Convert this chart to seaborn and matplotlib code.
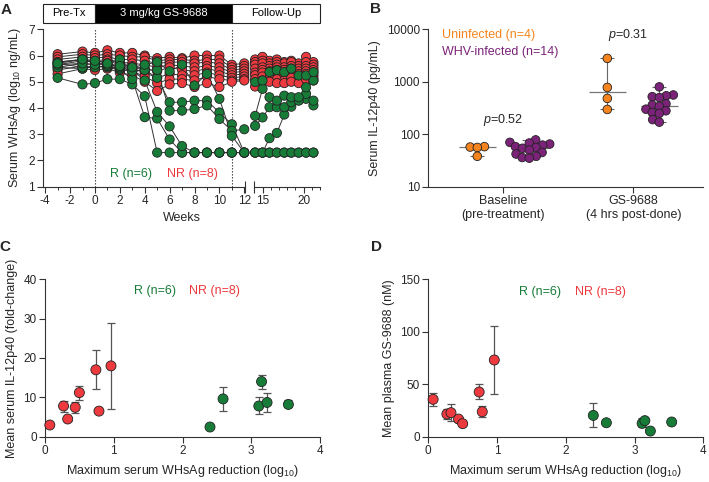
import numpy as np
import pandas as pd
import matplotlib
matplotlib.use("Agg")
import matplotlib.pyplot as plt
import matplotlib.transforms as mtransforms
from matplotlib.patches import Rectangle
from matplotlib.ticker import MultipleLocator, NullLocator
import seaborn as sns

sns.set_style("ticks")
plt.rcParams["font.family"] = ["Liberation Sans", "DejaVu Sans"]
plt.rcParams["font.size"] = 8.5
plt.rcParams["axes.unicode_minus"] = False
plt.rcParams["mathtext.fontset"] = "custom"
plt.rcParams["mathtext.rm"] = "Liberation Sans"
plt.rcParams["mathtext.it"] = "Liberation Sans:italic"

RED = "#EC3A3F"
GREEN = "#187C39"
ORANGE = "#F5841F"
PURPLE = "#7B2379"
INK = "#333333"

# ---------------- data ----------------
# panel A: weeks on each side of the axis break
weeks_pre = [-3, -1, 0, 1, 2, 3, 4, 5, 6, 7, 8, 9, 10, 11, 12]
weeks_post = [14.1, 15.0, 15.85, 16.75, 17.65, 18.5, 19.4, 20.3, 21.2]

nr_pre = [
    [6.05, 6.15, 6.10, 6.20, 6.10, 6.10, 6.00, 5.90, 5.95, 5.90, 6.00, 6.00, 6.00, 5.65, 5.70],
    [5.95, 6.05, 6.00, 6.05, 6.00, 5.95, 5.95, 5.80, 5.85, 5.85, 5.80, 5.85, 5.85, 5.55, 5.60],
    [5.85, 5.95, 5.90, 5.95, 5.85, 5.85, 5.80, 5.70, 5.75, 5.75, 5.70, 5.75, 5.70, 5.45, 5.50],
    [5.75, 5.85, 5.80, 5.85, 5.75, 5.70, 5.65, 5.55, 5.65, 5.60, 5.55, 5.60, 5.55, 5.35, 5.40],
    [5.65, 5.80, 5.75, 5.80, 5.65, 5.60, 5.50, 5.40, 5.55, 5.45, 5.40, 5.50, 5.40, 5.25, 5.30],
    [5.55, 5.70, 5.65, 5.70, 5.55, 5.50, 5.35, 5.15, 5.30, 5.25, 5.25, 5.35, 5.25, 5.15, 5.20],
    [5.45, 5.60, 5.55, 5.60, 5.45, 5.40, 5.20, 4.95, 5.10, 5.10, 5.05, 5.20, 5.10, 5.05, 5.10],
    [5.30, 5.50, 5.45, 5.50, 5.35, 5.25, 5.00, 4.65, 4.90, 4.95, 4.80, 4.95, 4.80, 5.00, 5.05],
]
nr_post = [
    [5.85, 5.95, 5.80, 5.85, 5.75, 5.80, 5.70, 5.95, 5.75],
    [5.75, 5.80, 5.70, 5.75, 5.70, 5.75, 5.60, 5.75, 5.65],
    [5.65, 5.70, 5.60, 5.65, 5.55, 5.60, 5.50, 5.60, 5.55],
    [5.50, 5.55, 5.50, 5.55, 5.45, 5.50, 5.40, 5.50, 5.45],
    [5.35, 5.45, 5.40, 5.45, 5.35, 5.40, 5.30, 5.40, 5.35],
    [5.25, 5.35, 5.30, 5.30, 5.20, 5.30, 5.20, 5.30, 5.25],
    [5.10, 5.20, 5.15, 5.10, 5.05, 5.15, 5.10, 5.20, 5.15],
    [4.82, 5.05, 5.00, 4.95, 4.95, 5.00, 4.95, 5.10, 5.05],
]
r_pre = [
    [5.15, 4.90, 4.95, 5.10, 5.10, 4.90, 4.45, 2.30, 2.30, 2.30, 2.30, 2.30, 2.30, 2.30, 2.30],
    [5.55, 5.50, 5.60, 5.55, 5.45, 5.10, 3.65, 3.60, 2.80, 2.30, 2.30, 2.30, 2.30, 2.30, 2.30],
    [5.75, 5.85, 5.70, 5.70, 5.85, 5.45, 5.05, 3.85, 3.30, 2.55, 2.30, 2.30, 2.30, 2.30, 2.30],
    [5.70, 5.55, 5.55, 5.60, 5.50, 5.55, 5.45, 5.15, 4.22, 4.22, 4.28, 4.28, 3.83, 3.38, 2.30],
    [5.65, 5.70, 5.65, 5.65, 5.55, 5.40, 5.45, 5.45, 3.90, 3.90, 3.96, 4.10, 3.58, 3.13, 3.19],
    [5.70, 5.85, 5.80, 5.70, 5.60, 5.55, 5.65, 5.75, 5.40, 5.65, 4.86, 5.30, 4.35, 2.94, 2.30],
]
r_post = [
    [2.30, 2.30, 2.30, 2.30, 2.30, 2.30, 2.30, 2.30, 2.30],
    [2.30, 2.30, 2.85, 3.05, 3.75, 4.05, 4.30, 4.35, 4.10],
    [2.30, 2.30, 2.30, 2.30, 2.30, 2.30, 2.30, 2.30, 2.30],
    [3.32, 3.64, 4.03, 4.03, 4.03, 4.22, 4.28, 4.54, 4.28],
    [3.70, 4.73, 4.41, 4.28, 4.47, 4.41, 4.41, 4.79, 5.05],
    [4.99, 5.05, 5.37, 5.44, 5.37, 5.50, 5.24, 5.24, 5.37],
]

# panel B: IL-12p40 (pg/mL)
b_times = ["Baseline\n(pre-treatment)", "GS-9688\n(4 hrs post-done)"]
b_groups = ["Uninfected", "WHV-infected"]
uninf_base = [58, 57, 56, 38]
uninf_gs = [2790, 780, 482, 297]
whv_base = [78, 70, 68, 65, 62, 58, 56, 54, 50, 45, 42, 38, 36, 35]
whv_gs = [800, 560, 540, 520, 500, 380, 360, 340, 300, 280, 260, 250, 190, 170]

# panels C and D: max WHsAg reduction (log10)
nr_red = [0.07, 0.27, 0.33, 0.44, 0.50, 0.74, 0.785, 0.96]
r_red = [2.40, 2.59, 3.11, 3.15, 3.23, 3.54]

c_nr_mean = [2.97, 7.8, 4.5, 7.46, 11.2, 17.0, 6.5, 18.0]
c_nr_lo = [2.6, 6.4, 4.1, 6.1, 9.3, 12.0, 6.2, 6.95]
c_nr_hi = [3.3, 9.15, 4.9, 8.9, 13.0, 22.0, 6.8, 29.0]
c_r_mean = [2.46, 9.6, 7.8, 14.0, 8.7, 8.2]
c_r_lo = [2.2, 6.6, 5.7, 12.2, 6.3, 7.5]
c_r_hi = [2.7, 12.7, 10.0, 15.8, 11.0, 9.3]

d_nr_mean = [35.6, 21.6, 22.9, 16.8, 12.4, 42.6, 23.8, 73.1]
d_nr_lo = [29.2, 16.5, 15.3, 14.3, 11.5, 35.6, 19.0, 40.7]
d_nr_hi = [41.9, 26.0, 31.1, 19.0, 13.3, 49.9, 29.2, 105.8]
d_r_mean = [20.3, 13.3, 12.7, 15.3, 5.4, 14.0]
d_r_lo = [8.9, 12.5, 9.5, 14.5, 4.8, 13.2]
d_r_hi = [32.4, 14.1, 17.5, 16.1, 6.0, 14.8]

# ---------------- frames ----------------
def long_frame(groups, weeks):
    rows = []
    for label, series in groups:
        for i, vals in enumerate(series):
            for w, v in zip(weeks, vals):
                rows.append((f"{label}{i}", label, w, v))
    return pd.DataFrame(rows, columns=["animal", "group", "week", "whsag"])

dfA_pre = long_frame([("NR", nr_pre), ("R", r_pre)], weeks_pre)
dfA_post = long_frame([("NR", nr_post), ("R", r_post)], weeks_post)

dfB = pd.DataFrame(
    [(b_times[0], b_groups[0], v) for v in uninf_base]
    + [(b_times[1], b_groups[0], v) for v in uninf_gs]
    + [(b_times[0], b_groups[1], v) for v in whv_base]
    + [(b_times[1], b_groups[1], v) for v in whv_gs],
    columns=["time", "group", "il12"],
)

W, H = 709, 482
fig = plt.figure(figsize=(W / 100, H / 100), dpi=100)


def px_axes(x0, y0, x1, y1):
    return fig.add_axes([x0 / W, 1 - y1 / H, (x1 - x0) / W, (y1 - y0) / H])


def style(ax):
    sns.despine(ax=ax)
    for s in ["left", "bottom"]:
        ax.spines[s].set_linewidth(0.8)
        ax.spines[s].set_color(INK)
    ax.tick_params(which="major", length=4, width=0.8, color=INK, labelsize=8.5, pad=2)
    ax.tick_params(which="minor", length=2.5, width=0.7, color=INK)


axA1 = px_axes(43.3, 29.3, 244.9, 186.7)
axA2 = px_axes(254.3, 29.3, 320.0, 186.7)
axB = px_axes(428.3, 29.3, 703.0, 186.7)
axC = px_axes(45.0, 279.3, 320.0, 436.7)
axD = px_axes(428.3, 279.3, 703.3, 436.7)

# ---------------- panel A ----------------
pal_rg = {"NR": RED, "R": GREEN}
for ax, df in [(axA1, dfA_pre), (axA2, dfA_post)]:
    sns.lineplot(data=df, x="week", y="whsag", units="animal", estimator=None,
                 color=INK, lw=0.7, sort=False, ax=ax, legend=False)
    sns.scatterplot(data=df, x="week", y="whsag", hue="group", palette=pal_rg,
                    s=44, edgecolor="#222222", linewidth=0.6, legend=False,
                    zorder=3, clip_on=False, ax=ax)
    ax.set_ylim(1, 7)
    ax.set_xlabel("")
    ax.set_ylabel("")
    style(ax)

axA1.set_xlim(-4.15, 12.05)
axA1.xaxis.set_major_locator(MultipleLocator(2))
axA1.xaxis.set_minor_locator(MultipleLocator(1))
axA1.set_yticks(range(1, 8))
axA1.set_ylabel("Serum WHsAg (log$_{10}$ ng/mL)", fontsize=9, labelpad=4)
for wk in [0, 11]:
    axA1.axvline(wk, color=INK, ls=(0, (1.2, 1.5)), lw=0.8, zorder=0)
axA1.text(2.92, 1.5, "R (n=6)", color=GREEN, fontsize=9, ha="center", va="center")
axA1.text(7.8, 1.5, "NR (n=8)", color=RED, fontsize=9, ha="center", va="center")

axA2.set_xlim(14, 22)
axA2.set_xticks([15, 20])
axA2.xaxis.set_minor_locator(MultipleLocator(1))
axA2.spines["left"].set_visible(False)
axA2.tick_params(axis="y", left=False, labelleft=False)

# axis-break caps
axA1.plot([12.05], [1], marker="|", ms=9, mew=0.8, color=INK, clip_on=False)
axA2.plot([14], [1], marker="|", ms=9, mew=0.8, color=INK, clip_on=False)

fig.text((43.3 + 320) / 2 / W, 1 - 218 / H, "Weeks", fontsize=9, ha="center", va="center")

# treatment header bar
trans = mtransforms.blended_transform_factory(axA1.transData, fig.transFigure)
hy0, hh = 1 - 22.7 / H, 18.7 / H
x_start = axA1.get_xlim()[0]
x_end = axA1.transData.inverted().transform(axA2.transAxes.transform((1, 0)))[0]
phases = [("Pre-Tx", x_start, 0, "white", "black"),
          ("3 mg/kg GS-9688", 0, 11, "black", "white"),
          ("Follow-Up", 11, x_end, "white", "black")]
for label, a, b, fc, tc in phases:
    axA1.add_patch(Rectangle((a, hy0), b - a, hh, transform=trans, fc=fc,
                             ec="#222222", lw=0.8, clip_on=False))
    axA1.text((a + b) / 2, hy0 + hh / 2, label, transform=trans, color=tc,
              fontsize=8, ha="center", va="center")

# ---------------- panel B ----------------
# lay the swarm out with small dots so the clusters stay compact, then enlarge them
sns.swarmplot(data=dfB, x="time", y="il12", hue="group", order=b_times,
              hue_order=b_groups, palette=[ORANGE, PURPLE], dodge=True,
              size=4.3, edgecolor="#222222", linewidth=0.6, log_scale=True,
              legend=False, zorder=3, ax=axB)
axB.set_ylim(10, 10000)
axB.set_yticks([10, 100, 1000, 10000])
axB.set_yticklabels(["10", "100", "1000", "10000"])
axB.yaxis.set_minor_locator(NullLocator())
axB.set_xlim(-0.577, 1.536)
axB.set_xlabel("")
axB.set_ylabel("Serum IL-12p40 (pg/mL)", fontsize=9, labelpad=4)
style(axB)
axB.tick_params(axis="x", labelsize=9)
fig.canvas.draw()
for coll in axB.collections:
    coll.__dict__.pop("draw", None)
    coll.set_sizes([6.2 ** 2])

groups_b = [(0, -0.2, uninf_base), (1, -0.2, uninf_gs),
            (0, 0.2, whv_base), (1, 0.2, whv_gs)]
for cat, off, vals in groups_b:
    x = cat + off
    lo, med, hi = np.min(vals), np.median(vals), np.max(vals)
    axB.vlines(x, lo, hi, color="#666666", lw=0.8, zorder=1)
    axB.hlines([lo, hi], x - 0.055, x + 0.055, color="#666666", lw=0.8, zorder=1)
    axB.hlines(med, x - 0.14, x + 0.14, color="#777777", lw=0.9, zorder=1)

axB.text(0.049, 0.964, "Uninfected (n=4)", transform=axB.transAxes, color=ORANGE,
         fontsize=9, va="center")
axB.text(0.049, 0.858, "WHV-infected (n=14)", transform=axB.transAxes, color=PURPLE,
         fontsize=9, va="center")
axB.text(0.0, 190, "$\\it{p}$=0.52", ha="center", va="center", fontsize=9)
axB.text(0.96, 7800, "$\\it{p}$=0.31", ha="center", va="center", fontsize=9)

# ---------------- panels C and D ----------------
def scatter_err(ax, nr_mean, nr_lo, nr_hi, r_mean, r_lo, r_hi):
    for xs, m, lo, hi in [(nr_red, nr_mean, nr_lo, nr_hi), (r_red, r_mean, r_lo, r_hi)]:
        m = np.array(m)
        yerr = [m - np.array(lo), np.array(hi) - m]
        ax.errorbar(xs, m, yerr=yerr, fmt="none", ecolor="#555555", elinewidth=0.9,
                    capsize=3.2, capthick=0.9, zorder=1)
    df = pd.DataFrame({"red": nr_red + r_red, "val": list(nr_mean) + list(r_mean),
                       "group": ["NR"] * len(nr_red) + ["R"] * len(r_red)})
    sns.scatterplot(data=df, x="red", y="val", hue="group", palette=pal_rg, s=52,
                    edgecolor="#222222", linewidth=0.6, legend=False, zorder=3,
                    clip_on=False, ax=ax)
    ax.set_xlim(0, 4)
    ax.set_xticks(range(5))
    ax.set_xlabel("Maximum serum WHsAg reduction (log$_{10}$)", fontsize=9, labelpad=4)
    style(ax)


scatter_err(axC, c_nr_mean, c_nr_lo, c_nr_hi, c_r_mean, c_r_lo, c_r_hi)
axC.set_ylim(0, 40)
axC.set_yticks([0, 10, 20, 30, 40])
axC.set_ylabel("Mean serum IL-12p40 (fold-change)", fontsize=9, labelpad=4)
axC.text(1.6, 36.9, "R (n=6)", color=GREEN, fontsize=9, ha="center", va="center")
axC.text(2.47, 36.9, "NR (n=8)", color=RED, fontsize=9, ha="center", va="center")

scatter_err(axD, d_nr_mean, d_nr_lo, d_nr_hi, d_r_mean, d_r_lo, d_r_hi)
axD.set_ylim(0, 150)
axD.set_yticks([0, 50, 100, 150])
axD.set_ylabel("Mean plasma GS-9688 (nM)", fontsize=9, labelpad=4)
axD.text(1.62, 138, "R (n=6)", color=GREEN, fontsize=9, ha="center", va="center")
axD.text(2.5, 138, "NR (n=8)", color=RED, fontsize=9, ha="center", va="center")

# panel letters
for letter, px, py in [("A", 6, 10), ("B", 376, 9), ("C", 5, 247), ("D", 377, 247)]:
    fig.text(px / W, 1 - py / H, letter, fontsize=11, fontweight="bold",
             ha="center", va="center")

fig.savefig("out.png", dpi=100)
